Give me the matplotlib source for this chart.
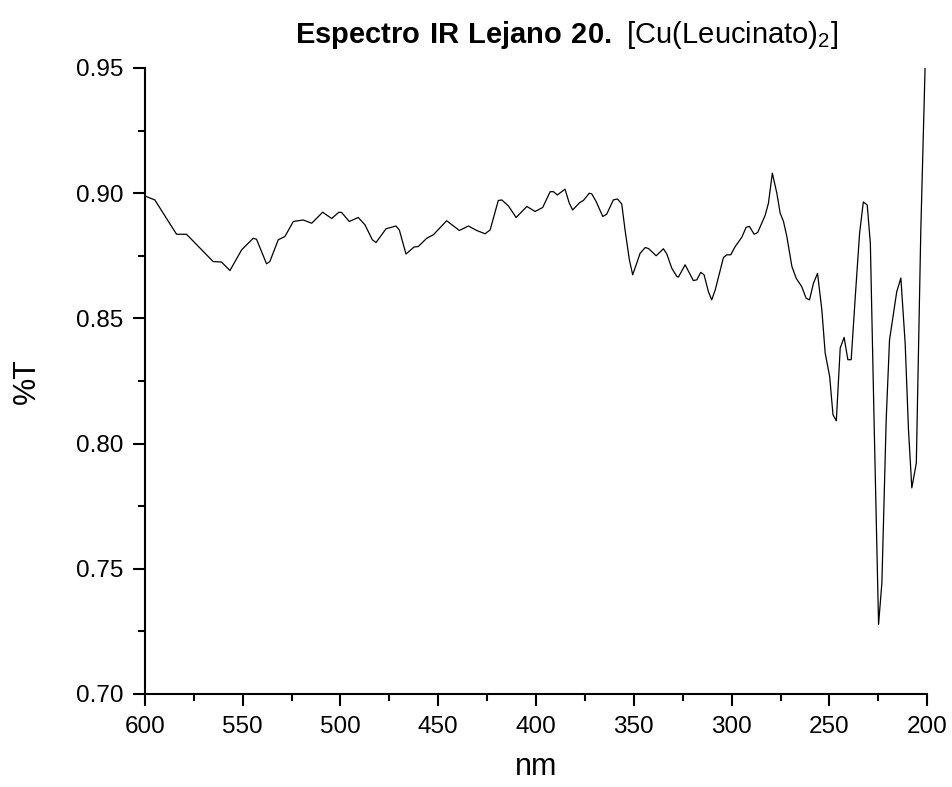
import numpy as np
import matplotlib.pyplot as plt
from matplotlib.ticker import MultipleLocator

plt.rcParams['font.family'] = ['Liberation Sans', 'DejaVu Sans']
plt.rcParams['mathtext.fontset'] = 'custom'
plt.rcParams['mathtext.rm'] = 'Liberation Sans'
plt.rcParams['mathtext.bf'] = 'Liberation Sans:bold'

# wavelength (nm) and transmittance
nm = [600.0, 594.9, 583.8, 578.7, 565.1, 560.8, 556.5, 550.5, 544.6, 542.9,
      537.8, 536.1, 531.8, 528.4, 524.1, 519.0, 514.7, 509.1, 504.5, 500.8,
      499.4, 495.5, 490.9, 487.5, 483.7, 481.8, 476.7, 471.6, 469.9, 466.5,
      462.4, 460.2, 455.9, 452.5, 445.7, 439.2, 434.6, 430.3, 426.1, 423.5,
      419.3, 417.5, 414.1, 410.2, 404.7, 400.5, 396.6, 392.8, 391.1, 389.1,
      385.2, 383.0, 381.3, 377.6, 375.8, 372.8, 371.5, 369.3, 365.9, 363.9,
      360.5, 358.4, 356.2, 354.5, 352.3, 350.6, 346.8, 344.2, 342.5, 338.6,
      334.9, 333.2, 330.6, 328.0, 327.2, 323.8, 319.6, 317.8, 315.8, 314.1,
      311.9, 310.2, 308.4, 304.2, 302.5, 300.5, 298.2, 294.8, 292.6, 290.9,
      288.5, 286.7, 282.9, 281.2, 279.2, 276.9, 275.2, 273.5, 271.8, 269.2,
      267.0, 264.2, 261.9, 260.2, 258.2, 256.1, 253.9, 252.2, 249.9, 248.2,
      246.5, 244.5, 242.5, 240.6, 238.9, 236.8, 234.6, 232.7, 230.7, 229.1,
      227.1, 224.9, 223.2, 221.0, 219.3, 215.6, 213.5, 211.3, 209.6, 207.9,
      205.6, 203.3, 201.1]
trans = [0.8989, 0.8973, 0.8836, 0.8836, 0.8727, 0.8725, 0.8691, 0.8774, 0.8820, 0.8816,
         0.8718, 0.8727, 0.8814, 0.8827, 0.8887, 0.8893, 0.8880, 0.8924, 0.8899, 0.8924,
         0.8923, 0.8887, 0.8903, 0.8874, 0.8814, 0.8803, 0.8858, 0.8869, 0.8853, 0.8757,
         0.8785, 0.8787, 0.8820, 0.8834, 0.8890, 0.8851, 0.8869, 0.8851, 0.8838, 0.8853,
         0.8971, 0.8973, 0.8949, 0.8903, 0.8947, 0.8927, 0.8943, 0.9006, 0.9006, 0.8993,
         0.9016, 0.8960, 0.8933, 0.8963, 0.8971, 0.9000, 0.8997, 0.8967, 0.8907, 0.8916,
         0.8973, 0.8977, 0.8957, 0.8853, 0.8734, 0.8674, 0.8760, 0.8783, 0.8779, 0.8750,
         0.8778, 0.8758, 0.8700, 0.8667, 0.8665, 0.8714, 0.8651, 0.8654, 0.8684, 0.8674,
         0.8607, 0.8574, 0.8614, 0.8743, 0.8754, 0.8754, 0.8787, 0.8824, 0.8864, 0.8867,
         0.8836, 0.8843, 0.8911, 0.8960, 0.9080, 0.9000, 0.8920, 0.8887, 0.8827, 0.8707,
         0.8660, 0.8627, 0.8580, 0.8574, 0.8640, 0.8680, 0.8534, 0.8362, 0.8268, 0.8115,
         0.8091, 0.8382, 0.8424, 0.8335, 0.8335, 0.8587, 0.8840, 0.8965, 0.8953, 0.8800,
         0.8056, 0.7278, 0.7444, 0.8095, 0.8414, 0.8607, 0.8661, 0.8400, 0.8055, 0.7823,
         0.7922, 0.8853, 0.9508]

x_ticks = [600, 550, 500, 450, 400, 350, 300, 250, 200]
y_ticks = [0.70, 0.75, 0.80, 0.85, 0.90, 0.95]

fig = plt.figure(figsize=(9.53, 7.87), dpi=100)
ax = fig.add_axes([0.152, 0.1182, 0.821, 0.7954])

ax.plot(nm, trans, color='black', linewidth=0.9)

ax.set_xlim(600, 200)
ax.set_ylim(0.70, 0.95)
ax.set_xticks(x_ticks)
ax.set_yticks(y_ticks)
ax.set_yticklabels(['%.2f' % v for v in y_ticks])
ax.xaxis.set_minor_locator(MultipleLocator(25))
ax.yaxis.set_minor_locator(MultipleLocator(0.025))

for s in ['top', 'right']:
    ax.spines[s].set_visible(False)
for s in ['left', 'bottom']:
    ax.spines[s].set_linewidth(1.5)

ax.tick_params(which='major', direction='out', length=8.6, width=1.5,
               labelsize=17.5, pad=7)
ax.tick_params(which='minor', direction='out', length=5, width=1.5)

ax.set_xlabel('nm', fontsize=22, labelpad=10)
ax.set_ylabel('%T', fontsize=22, labelpad=24)

fig.text(0.594, 0.955,
         r'$\mathbf{Espectro\ IR\ Lejano\ 20.\ }$[Cu(Leucinato)$_2$]',
         ha='center', va='center', fontsize=21)

fig.savefig('out.png', dpi=100)
